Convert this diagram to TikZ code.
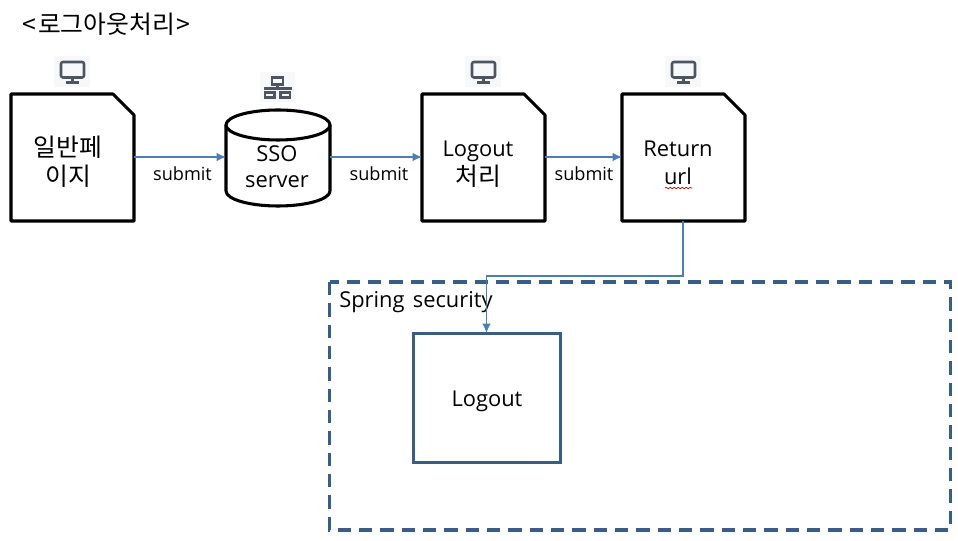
\documentclass[tikz,border=0pt]{standalone}
\usepackage{fontspec}
\setmainfont{Open Sans}
\newfontfamily\krfont{Noto Sans CJK KR}[Scale=1.0]
\usetikzlibrary{arrows.meta,decorations.pathmorphing}
\definecolor{flow}{HTML}{4A7EBB}
\definecolor{navy}{HTML}{385D8A}
\definecolor{icon}{HTML}{4D5560}
\definecolor{iconbg}{HTML}{F7F8FA}
\tikzset{
  px/.style={x=0.75pt,y=-0.75pt},
  shapeline/.style={draw=black,line width=2.3pt,line join=round,fill=white},
  anchorbox/.style={inner sep=0pt,outer sep=0pt,draw=none},
  flowline/.style={draw=flow,line width=1.3pt,-{Latex[length=7pt,width=6.5pt]}},
  bigtext/.style={font=\fontsize{16.4pt}{19pt}\selectfont,inner sep=0pt,text=black,anchor=base},
  krtext/.style={font=\krfont\fontsize{18.6pt}{22pt}\selectfont,inner sep=0pt,text=black},
  smalltext/.style={font=\fontsize{13.6pt}{16pt}\selectfont,inner sep=0pt,text=black,anchor=base},
  navybox/.style={draw=navy,line width=2.3pt},
  mon/.pic={
    \fill[iconbg] (-18,-15.5) rectangle (18,15.5);
    \draw[icon,line width=1.9pt,rounded corners=1.5pt] (-11,-10) rectangle (12,5.5);
    \draw[icon,line width=1.9pt] (0.5,5.5) -- (0.5,10.5) (-6,10.5) -- (7,10.5);
  },
  net/.pic={
    \fill[iconbg] (-17.5,-15) rectangle (17.5,15);
    \draw[icon,line width=1.7pt] (-5.5,-10) rectangle (5.5,-3);
    \draw[icon,line width=1.7pt] (-12.5,5) rectangle (-3,10);
    \draw[icon,line width=1.7pt] (3,5) rectangle (12.5,10);
    \draw[icon,line width=1.7pt] (-14,1) -- (14,1) (0,-3) -- (0,1);
  }
}
\newcommand{\docshape}[5]{% name, left, top, right, bottom
  \node[anchorbox,minimum width=#4*0.75pt-#2*0.75pt,minimum height=#5*0.75pt-#3*0.75pt,anchor=north west] (#1) at (#2,#3) {};
  \draw[shapeline] (#1.north west) -- ++(102,0) -- ++(21,21) |- (#1.south west) -- cycle;
}
\begin{document}
\begin{tikzpicture}[px]
\useasboundingbox (0,0) rectangle (958,541);

% title
\node[krtext,anchor=west] (title) at (22,24) {<\hspace{1.5pt}로그아웃처리\hspace{1.5pt}>};

% spring security
\node[anchorbox,minimum width=465.4pt,minimum height=186pt,anchor=north west] (spring) at (329.5,282) {};
\draw[navybox,dash pattern=on 10pt off 6pt] (spring.north west) rectangle (spring.south east);
\node[bigtext,anchor=base west] (springlabel) at (339,308) {Spring\hspace{2pt} security};
\node[anchorbox,draw=navy,line width=2.1pt,fill=white,minimum width=110.5pt,minimum height=96.5pt,anchor=north west] (logoutbox) at (413.5,333.5) {};
\node[bigtext] (logouttext) at (487,407) {Logout};

% documents
\docshape{docA}{11}{94}{134}{221}
\docshape{docC}{422}{94}{545}{221}
\docshape{docD}{622}{94}{745}{221}

% cylinder
\node[anchorbox,minimum width=78pt,minimum height=72pt,anchor=north west] (db) at (226,110) {};
\draw[shapeline] (226,125) -- (226,191) arc[start angle=180,end angle=360,x radius=52,y radius=-15] -- (330,125) -- cycle;
\draw[shapeline] (278,125) ellipse[x radius=52,y radius=15];

% texts in shapes
\node[krtext] (t1a) at (68,147) {일반페};
\node[krtext] (t1b) at (68,176) {이지};
\node[bigtext] (t2a) at (277,162) {SSO};
\node[bigtext] (t2b) at (277,188) {server};
\node[bigtext] (t3a) at (478,157) {Logout};
\node[krtext] (t3b) at (478,176) {처리};
\node[bigtext] (t4a) at (678,157) {Return};
\node[bigtext] (t4b) at (678,185) {url};
\coordinate (wavyL) at (665,188);
\coordinate (wavyR) at (692,188);
\draw[red!85!black,line width=0.5pt,decorate,decoration={snake,amplitude=0.6pt,segment length=3pt}] (wavyL) -- (wavyR);

% connectors
\coordinate (a1) at (docA.east |- 0,157);
\coordinate (b1) at (db.west |- 0,157);
\coordinate (b2) at (db.east |- 0,157);
\coordinate (c1) at (docC.west |- 0,157);
\coordinate (c2) at (docC.east |- 0,157);
\coordinate (d1) at (docD.west |- 0,157);
\draw[flowline] (a1) -- (b1);
\draw[flowline] (b2) -- (c1);
\draw[flowline] (c2) -- (d1);
\coordinate (d2) at (683,221);
\coordinate (elbow1) at (683,276);
\coordinate (elbow2) at (486.5,276);
\coordinate (lg) at (486.5,333);
\draw[flowline] (d2) -- (elbow1) -- (elbow2) -- (lg);

\node[smalltext] (s1) at (182.5,181) {submit};
\node[smalltext] (s2) at (379,181) {submit};
\node[smalltext] (s3) at (584,181) {submit};

% icons
\pic at (72,72) {mon};
\pic at (277.5,87.5) {net};
\pic at (483,72) {mon};
\pic at (683,72) {mon};
\end{tikzpicture}
\end{document}
